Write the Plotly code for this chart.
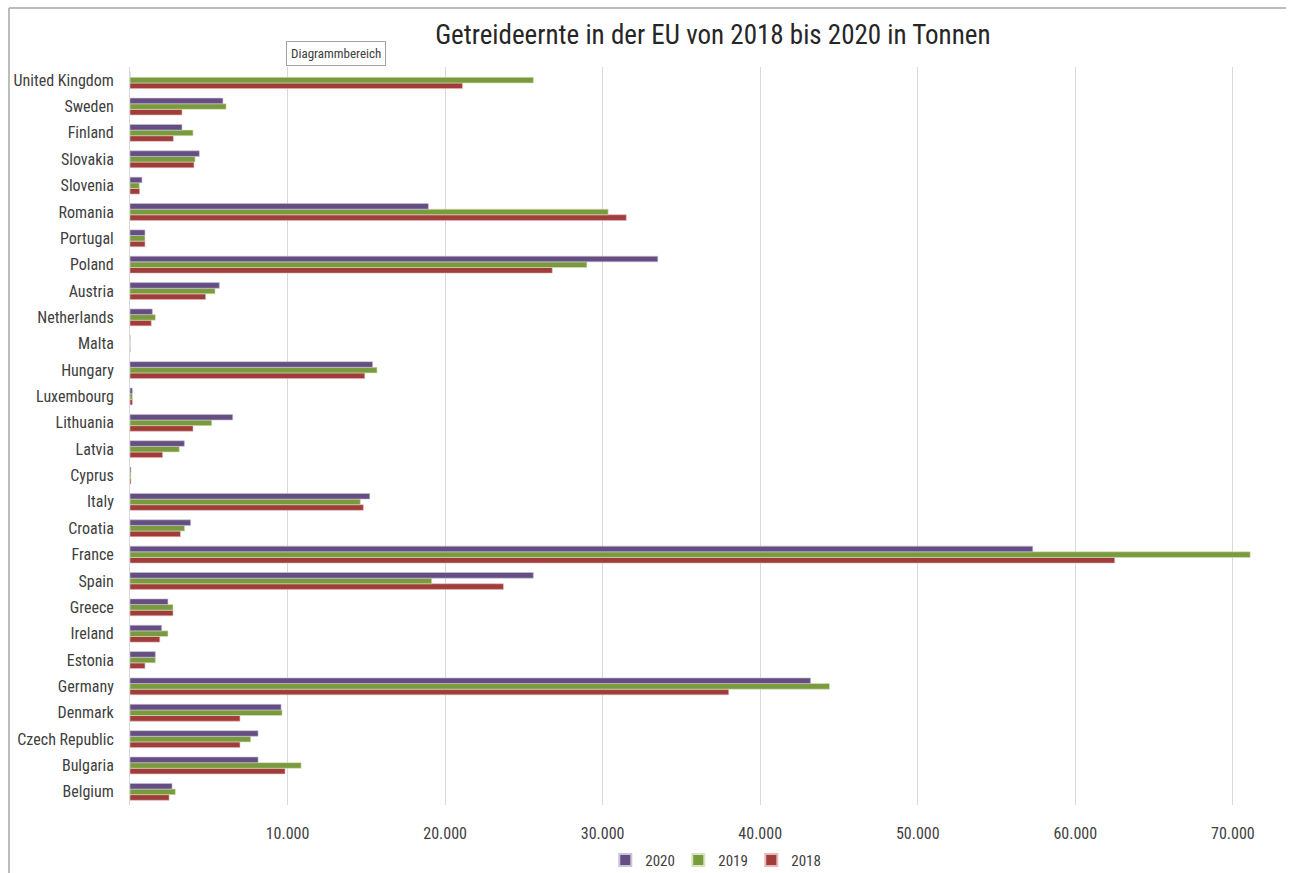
import plotly.graph_objects as go

countries = ["Belgium", "Bulgaria", "Czech Republic", "Denmark", "Germany", "Estonia",
             "Ireland", "Greece", "Spain", "France", "Croatia", "Italy", "Cyprus", "Latvia",
             "Lithuania", "Luxembourg", "Hungary", "Malta", "Netherlands", "Austria", "Poland",
             "Portugal", "Romania", "Slovenia", "Slovakia", "Finland", "Sweden", "United Kingdom"]

v2020 = [2670, 8130, 8130, 9590, 43200, 1610, 2010, 2410, 25600, 57300, 3850, 15220, 60, 3450,
         6520, 150, 15400, 10, 1420, 5670, 33500, 950, 18940, 760, 4400, 3300, 5900, 0]
v2019 = [2880, 10860, 7660, 9650, 44400, 1610, 2410, 2730, 19150, 71100, 3470, 14620, 60, 3130,
         5190, 150, 15680, 10, 1610, 5400, 29000, 950, 30350, 590, 4130, 4000, 6100, 25600]
v2018 = [2480, 9840, 6980, 6980, 38000, 950, 1890, 2730, 23700, 62500, 3200, 14810, 60, 2070,
         4000, 150, 14900, 10, 1350, 4800, 26800, 950, 31500, 610, 4060, 2750, 3300, 21100]

tick_vals = [10000, 20000, 30000, 40000, 50000, 60000, 70000]
tick_text = ["10.000", "20.000", "30.000", "40.000", "50.000", "60.000", "70.000"]

FONT = "Liberation Sans Narrow, Arial Narrow, Roboto Condensed, Liberation Sans, Arial, sans-serif"

fig = go.Figure()
for name, vals, col, lc in [("2018", v2018, "#A03C3A", "#E6B9B8"),
                            ("2019", v2019, "#7A9A3E", "#D7E4BD"),
                            ("2020", v2020, "#654F82", "#CCC1DA")]:
    fig.add_trace(go.Bar(y=countries, x=vals, name=name, orientation="h",
                         marker=dict(color=col, line=dict(color=lc, width=0.6))))

fig.update_layout(
    width=1289, height=873,
    margin=dict(l=130, r=1, t=67, b=68, autoexpand=False),
    paper_bgcolor="white", plot_bgcolor="white",
    barmode="group", bargap=0.36, bargroupgap=0,
    font=dict(family=FONT, color="#404040", size=16),
    title=dict(text="Getreideernte in der EU von 2018 bis 2020 in Tonnen",
               x=0.553, xanchor="center", y=0.96, yanchor="middle",
               font=dict(family=FONT, size=27, color="#262626")),
    legend=dict(orientation="h", x=0.505, xanchor="center", y=-0.075, yanchor="middle",
                traceorder="reversed", font=dict(size=15, color="#404040"),
                itemwidth=30, entrywidth=28, itemsizing="constant"),
    xaxis=dict(range=[0, 73500], tickvals=tick_vals, ticktext=tick_text,
               showgrid=True, gridcolor="#D9D9D9", gridwidth=1, zeroline=False,
               showline=False, ticks="", ticklabelstandoff=17,
               tickfont=dict(size=16, color="#404040"), fixedrange=True),
    yaxis=dict(showline=True, linecolor="#D9D9D9", linewidth=1, ticks="",
               ticklabelstandoff=12, tickfont=dict(size=16, color="#404040"),
               showgrid=False, fixedrange=True),
    showlegend=True,
)

# chart area border (partially visible)
fig.add_shape(type="line", xref="paper", yref="paper", x0=-121/1158, x1=1156/1158,
              y0=1 + 59/738, y1=1 + 59/738, line=dict(color="#A6A6A6", width=1.5))
fig.add_shape(type="line", xref="paper", yref="paper", x0=-121/1158, x1=-121/1158,
              y0=1 + 59/738, y1=-68/738, line=dict(color="#A6A6A6", width=1.5))

fig.add_annotation(text="Diagrammbereich", xref="paper", yref="paper",
                   x=(336 - 130) / 1158, y=1 + (67 - 54) / 738, showarrow=False,
                   xanchor="center", yanchor="middle",
                   font=dict(family=FONT, size=13, color="#404040"),
                   bgcolor="white", bordercolor="#A0A0A0", borderwidth=1, borderpad=4)

fig.write_html("out.html")
